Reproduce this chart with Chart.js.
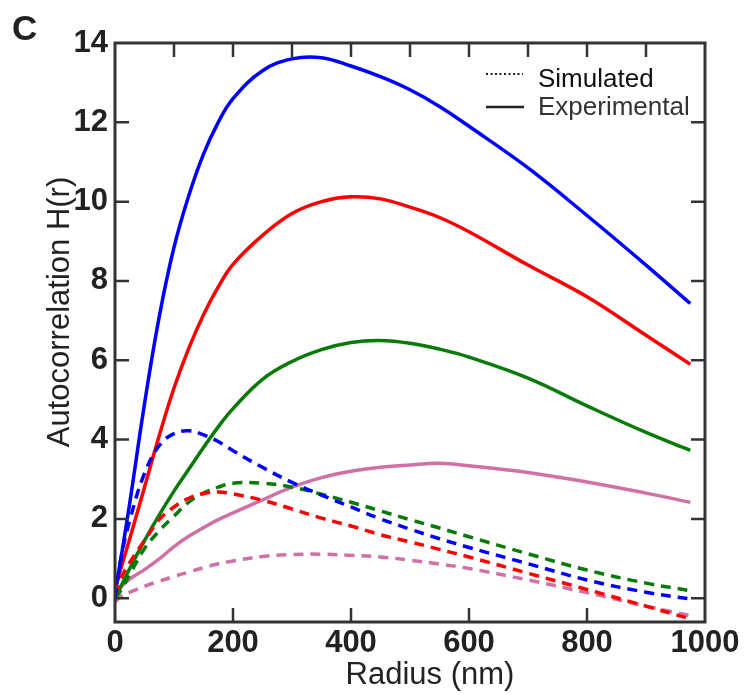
<!DOCTYPE html>
<html>
<head>
<meta charset="utf-8">
<script src="https://cdn.jsdelivr.net/npm/chart.js@4"></script>
<style>
  body { margin: 0; background: #fff; }
  canvas { display: block; }
</style>
</head>
<body>
<canvas id="autoChart" width="753" height="695"></canvas>
<script>
// radius samples (nm) shared by all curves
const radius = [0, 10, 25, 50, 75, 100, 125, 150, 175, 200, 250, 300, 350, 400, 450, 500, 550, 600, 700, 800, 900, 975];

// experimental H(r)
const expBlue  = [0.1, 1.0, 2.4, 4.9, 7.1, 8.85, 10.15, 11.2, 12.0, 12.6, 13.3, 13.6, 13.63, 13.42, 13.15, 12.82, 12.4, 11.9, 10.85, 9.65, 8.4, 7.43];
const expRed   = [0.25, 0.75, 1.5, 2.8, 4.1, 5.3, 6.3, 7.15, 7.85, 8.42, 9.15, 9.7, 10.0, 10.12, 10.07, 9.86, 9.6, 9.24, 8.4, 7.6, 6.63, 5.9];
const expGreen = [0.0, 0.3, 0.75, 1.45, 2.1, 2.7, 3.25, 3.8, 4.32, 4.78, 5.52, 5.97, 6.27, 6.45, 6.5, 6.43, 6.28, 6.08, 5.55, 4.85, 4.18, 3.73];
const expPink  = [0.0, 0.28, 0.48, 0.72, 0.99, 1.3, 1.56, 1.78, 1.98, 2.15, 2.48, 2.8, 3.04, 3.2, 3.3, 3.36, 3.4, 3.34, 3.17, 2.93, 2.65, 2.42];

// simulated H(r)
const simBlue  = [0.0, 1.0, 1.96, 3.15, 3.85, 4.15, 4.22, 4.12, 3.95, 3.72, 3.3, 2.92, 2.6, 2.3, 2.0, 1.74, 1.5, 1.28, 0.87, 0.46, 0.15, -0.02];
const simRed   = [0.1, 0.5, 0.9, 1.45, 1.98, 2.3, 2.52, 2.64, 2.68, 2.63, 2.47, 2.25, 2.02, 1.82, 1.6, 1.42, 1.23, 1.04, 0.63, 0.22, -0.2, -0.52];
const simGreen = [0.0, 0.2, 0.6, 1.25, 1.7, 2.07, 2.42, 2.65, 2.8, 2.9, 2.9, 2.8, 2.62, 2.42, 2.2, 1.98, 1.77, 1.55, 1.12, 0.71, 0.38, 0.19];
const simPink  = [-0.1, 0.05, 0.15, 0.3, 0.43, 0.55, 0.66, 0.77, 0.87, 0.94, 1.05, 1.1, 1.11, 1.08, 1.04, 0.96, 0.86, 0.75, 0.46, 0.14, -0.2, -0.44];

// tick positions
const yTickValues = [0, 2, 4, 6, 8, 10, 12, 14];
const xBottomMarks = [200, 400, 600, 800];
const xTopMarks = [100, 200, 300, 400, 500, 600, 700, 800, 900];
const yMarks = [0, 2, 4, 6, 8, 10, 12];

const BLUE = '#0000ff', RED = '#ff0000', GREEN = '#087a08', PINK = '#d070a4';
const AXIS = '#333333';

function pts(ys) {
  return radius.map((r, i) => ({ x: r, y: ys[i] }));
}

function series(label, ys, color, dashed) {
  return {
    label: label,
    data: pts(ys),
    borderColor: color,
    backgroundColor: color,
    borderWidth: 3.5,
    borderDash: dashed ? [10, 7] : [],
    pointRadius: 0,
    tension: 0.4,
    fill: false
  };
}

// frame, inward tick marks, axis titles, panel letter and the line-style key
const decorations = {
  id: 'decorations',
  afterDatasetsDraw(chart) {
    const ctx = chart.ctx;
    const xs = chart.scales.x, ys = chart.scales.y;
    const { left, right, top, bottom } = chart.chartArea;
    const tick = 14;

    ctx.save();
    ctx.strokeStyle = AXIS;
    ctx.lineWidth = 3;
    ctx.setLineDash([]);
    ctx.strokeRect(left, top, right - left, bottom - top);

    ctx.lineWidth = 2.5;
    ctx.beginPath();
    xBottomMarks.forEach(v => {
      const px = xs.getPixelForValue(v);
      ctx.moveTo(px, bottom); ctx.lineTo(px, bottom - tick);
    });
    xTopMarks.forEach(v => {
      const px = xs.getPixelForValue(v);
      ctx.moveTo(px, top); ctx.lineTo(px, top + tick);
    });
    yMarks.forEach(v => {
      const py = ys.getPixelForValue(v);
      ctx.moveTo(left, py); ctx.lineTo(left + tick, py);
      ctx.moveTo(right, py); ctx.lineTo(right - tick, py);
    });
    ctx.stroke();

    // axis titles
    ctx.fillStyle = '#222';
    ctx.font = '31px "Liberation Sans", Arial, sans-serif';
    ctx.textAlign = 'center';
    ctx.textBaseline = 'alphabetic';
    ctx.fillText('Radius (nm)', 430, 684);
    ctx.save();
    ctx.translate(69, 312);
    ctx.rotate(-Math.PI / 2);
    ctx.fillText('Autocorrelation H(r)', 0, 0);
    ctx.restore();

    // panel letter
    ctx.font = 'bold 35px "Liberation Sans", Arial, sans-serif';
    ctx.textAlign = 'left';
    ctx.fillText('C', 12, 40);

    // key
    ctx.strokeStyle = '#222';
    ctx.lineWidth = 2;
    ctx.setLineDash([2, 2.5]);
    ctx.beginPath();
    ctx.moveTo(486, 74); ctx.lineTo(523, 74);
    ctx.stroke();
    ctx.setLineDash([]);
    ctx.lineWidth = 2.5;
    ctx.beginPath();
    ctx.moveTo(486, 107); ctx.lineTo(524, 107);
    ctx.stroke();

    ctx.font = '26px "Liberation Sans", Arial, sans-serif';
    ctx.fillStyle = '#111';
    ctx.fillText('Simulated', 538, 87);
    ctx.fillStyle = '#333';
    ctx.fillText('Experimental', 538, 115);
    ctx.restore();
  }
};

const ctx = document.getElementById('autoChart').getContext('2d');
const autoChart = new Chart(ctx, {
  type: 'line',
  data: {
    datasets: [
      series('Simulated (blue)', simBlue, BLUE, true),
      series('Simulated (red)', simRed, RED, true),
      series('Simulated (green)', simGreen, GREEN, true),
      series('Simulated (pink)', simPink, PINK, true),
      series('Experimental (blue)', expBlue, BLUE, false),
      series('Experimental (red)', expRed, RED, false),
      series('Experimental (green)', expGreen, GREEN, false),
      series('Experimental (pink)', expPink, PINK, false)
    ]
  },
  options: {
    responsive: false,
    animation: false,
    layout: { padding: { left: 0, top: 43, right: 48, bottom: 0 } },
    scales: {
      x: {
        type: 'linear',
        min: 0,
        max: 1000,
        grid: { display: false, drawTicks: false },
        border: { display: false },
        ticks: {
          stepSize: 200,
          padding: 3,
          color: '#222',
          font: { family: '"Liberation Sans", Arial, sans-serif', size: 31, weight: 'bold' },
          callback: function(value) { return String(value); }
        },
        afterFit: function(scale) { scale.height = 73; }
      },
      y: {
        min: -0.6,
        max: 14,
        grid: { display: false, drawTicks: false },
        border: { display: false },
        afterBuildTicks: function(scale) {
          scale.ticks = yTickValues.map(v => ({ value: v }));
        },
        ticks: {
          padding: 7,
          color: '#222',
          font: { family: '"Liberation Sans", Arial, sans-serif', size: 31, weight: 'bold' },
          callback: function(value) { return String(value); }
        },
        afterFit: function(scale) { scale.width = 115; }
      }
    },
    plugins: {
      legend: { display: false },
      tooltip: { enabled: false }
    }
  },
  plugins: [decorations]
});
</script>
</body>
</html>
